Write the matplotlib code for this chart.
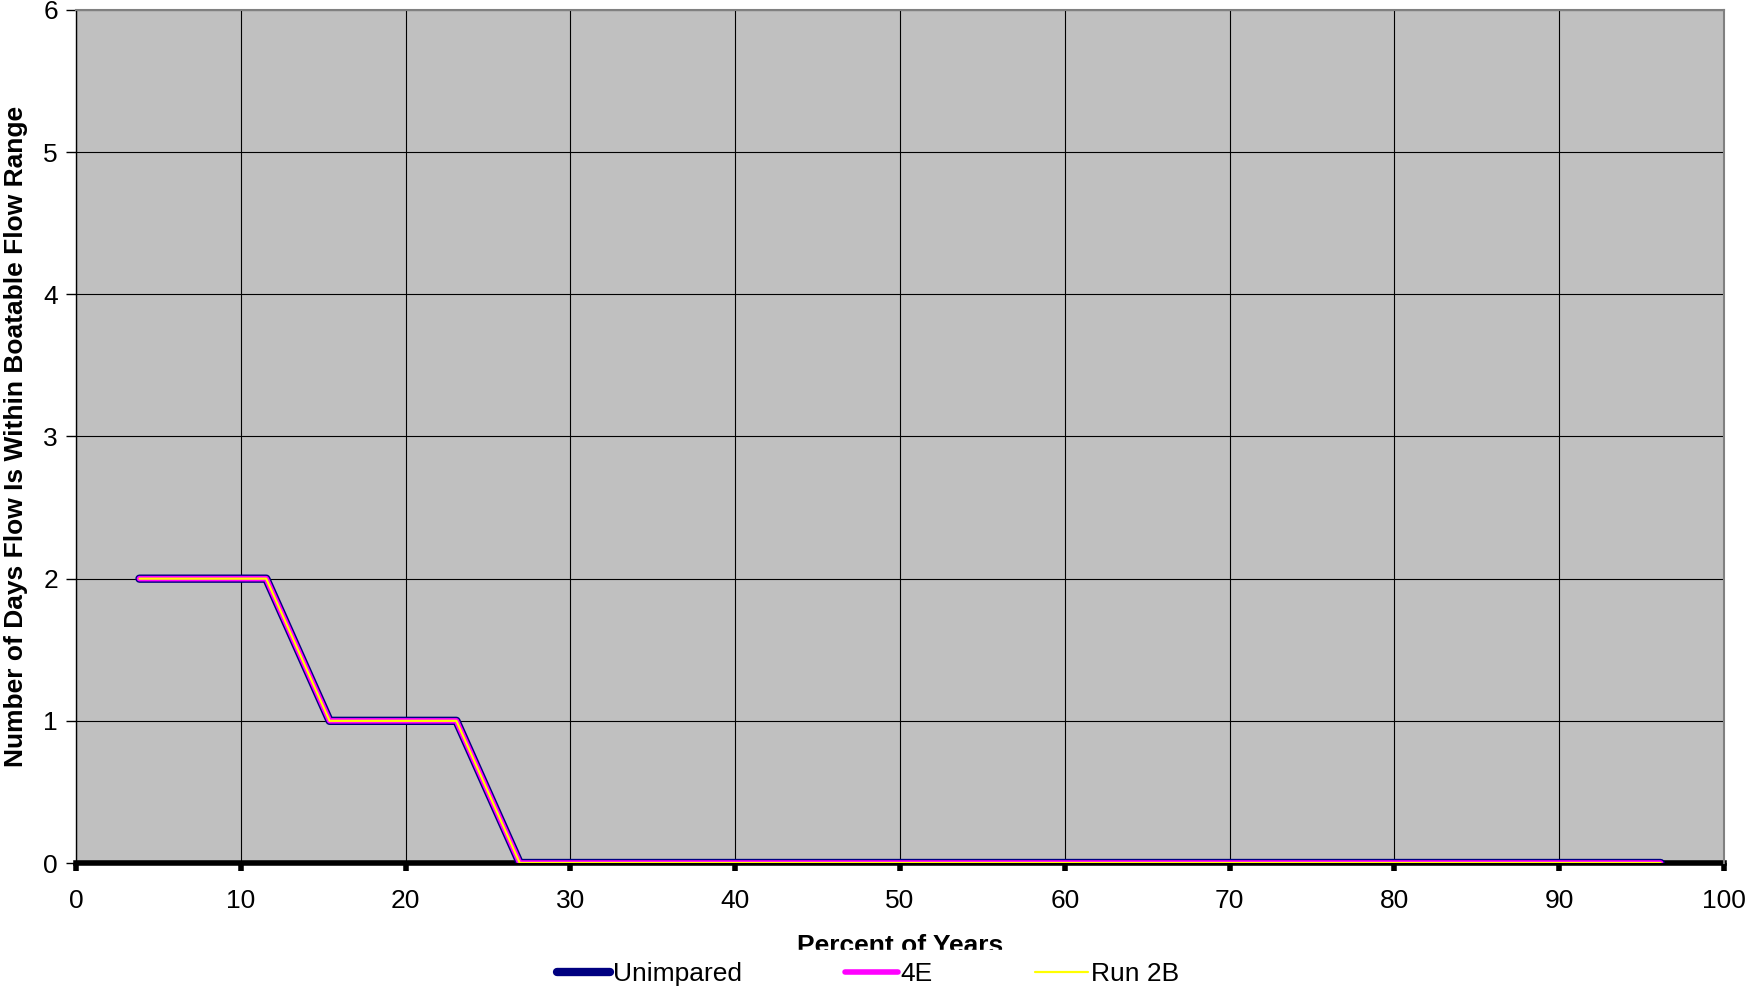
import numpy as np
import matplotlib
matplotlib.use('Agg')
import matplotlib.pyplot as plt

plt.rcParams['font.family'] = ['Liberation Sans', 'DejaVu Sans']

# percent of years (rank / 26 years) and days within boatable range
pct_years = [i / 26 * 100 for i in range(1, 26)]
unimpared = [2, 2, 2, 1, 1, 1] + [0] * 19
run_4e = [2, 2, 2, 1, 1, 1] + [0] * 19
run_2b = [2, 2, 2, 1, 1, 1] + [0] * 19

fig = plt.figure(figsize=(17.45, 9.89), dpi=100)
ax = fig.add_axes([0.0436, 0.1274, 0.9444, 0.8625])
ax.set_facecolor('#C0C0C0')

ax.plot(pct_years, unimpared, color='#000080', lw=6, solid_capstyle='round', label='Unimpared', zorder=3)
ax.plot(pct_years, run_4e, color='#FF00FF', lw=4, solid_capstyle='round', label='4E', zorder=4)
ax.plot(pct_years, run_2b, color='#FFFF00', lw=1.6, solid_capstyle='round', label='Run 2B', zorder=5)

ax.set_xlim(0, 100)
ax.set_ylim(0, 6)
ax.set_xticks(np.arange(0, 101, 10))
ax.set_yticks(np.arange(0, 7, 1))
ax.grid(True, color='black', lw=0.8)
ax.set_axisbelow(True)

for s in ['top', 'right']:
    ax.spines[s].set_color('#808080')
    ax.spines[s].set_linewidth(1.5)
ax.spines['left'].set_color('black')
ax.spines['left'].set_linewidth(1.0)
ax.spines['bottom'].set_color('black')
ax.spines['bottom'].set_linewidth(4)
ax.spines['bottom'].set_zorder(2)

ax.tick_params(axis='x', direction='out', length=6, width=4, labelsize=19, pad=13)
ax.tick_params(axis='y', direction='out', length=7, width=1, labelsize=19, pad=6)

ax.set_ylabel('Number of Days Flow Is Within Boatable Flow Range', fontsize=19,
              fontweight='bold', labelpad=11)
ax.set_xlabel('Percent of Years', fontsize=19, fontweight='bold', labelpad=15)

leg = fig.legend(loc='center', bbox_to_anchor=(0.4975, 0.015), ncol=3, frameon=True,
                 fontsize=19, handlelength=2.0, handletextpad=0.1, columnspacing=3.9,
                 borderaxespad=0, borderpad=0.45)
leg.get_frame().set_facecolor('white')
leg.get_frame().set_edgecolor('white')
leg.get_frame().set_alpha(1)
leg.get_frame().set_boxstyle('square', pad=0)
leg.set_zorder(10)
for h in leg.get_lines():
    h.set_solid_capstyle('round')

fig.savefig('out.png', dpi=100)
